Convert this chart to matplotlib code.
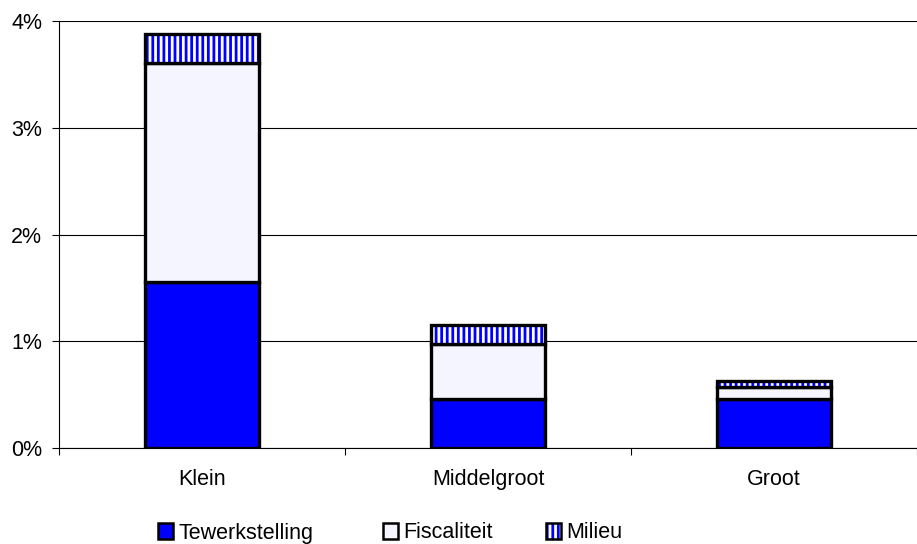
import matplotlib
matplotlib.use("Agg")
import matplotlib.pyplot as plt
from matplotlib.patches import Patch, Rectangle
from matplotlib.legend_handler import HandlerBase
import numpy as np

categories = ["Klein", "Middelgroot", "Groot"]
tewerkstelling = [1.553, 0.456, 0.462]
fiscaliteit = [2.052, 0.516, 0.107]
milieu = [0.275, 0.181, 0.059]
series_names = ["Tewerkstelling", "Fiscaliteit", "Milieu"]
yticks = [0, 1, 2, 3, 4]
ytick_labels = ["0%", "1%", "2%", "3%", "4%"]

plt.rcParams['font.family'] = ['Liberation Sans', 'DejaVu Sans']
plt.rcParams['hatch.linewidth'] = 2.0

FS = 15.5
W, H = 917, 544
fig = plt.figure(figsize=(W/100, H/100), dpi=100)
ax = fig.add_axes([59/W, 1 - 448/H, (W-59)/W, (448-21.2)/H])

x = np.arange(len(categories))
w = 0.40
blue = "#0000FF"
light = "#F5F5FF"
lw = 2.4

t = np.array(tewerkstelling)
f = np.array(fiscaliteit)
m = np.array(milieu)

ax.bar(x, t, w, color=blue, edgecolor="black", linewidth=lw, zorder=3)
ax.bar(x, f, w, bottom=t, color=light, edgecolor="black", linewidth=lw, zorder=3)
ax.bar(x, m, w, bottom=t + f, color="white", edgecolor=blue, hatch="|||", linewidth=0, zorder=3)
ax.bar(x, m, w, bottom=t + f, fill=False, edgecolor="black", linewidth=lw, zorder=4)

ax.set_xlim(-0.5, (W - 59) / 289 - 0.5)
ax.set_ylim(0, 4)
ax.set_yticks(yticks)
ax.set_yticklabels(ytick_labels, fontsize=FS)
ax.set_xticks(x)
ax.set_xticklabels(categories, fontsize=FS)
ax.tick_params(axis='x', which='major', length=0, pad=15)
ax.set_xticks([-0.5, 0.5, 1.5, 2.5], minor=True)
ax.tick_params(axis='x', which='minor', length=5, width=0.8, direction='out')
ax.tick_params(axis='y', length=5, width=0.8, direction='out', pad=7)
ax.yaxis.grid(True, color="black", linewidth=0.8, zorder=0)
ax.set_axisbelow(True)
for s in ["top", "right"]:
    ax.spines[s].set_visible(False)
ax.spines["left"].set_linewidth(0.8)
ax.spines["bottom"].set_linewidth(0.8)


class MilieuHandler(HandlerBase):
    def create_artists(self, legend, orig_handle, xdescent, ydescent, width, height, fontsize, trans):
        r1 = Rectangle((-xdescent, -ydescent), width, height, facecolor="white",
                       edgecolor=blue, hatch="|||", linewidth=0, transform=trans)
        r2 = Rectangle((-xdescent, -ydescent), width, height, fill=False,
                       edgecolor="black", linewidth=1.8, transform=trans)
        return [r1, r2]


handles = [
    Patch(facecolor=blue, edgecolor="black", linewidth=1.8),
    Patch(facecolor=light, edgecolor="black", linewidth=1.8),
    Patch(facecolor="white", edgecolor=blue, hatch="|||", linewidth=0),
]
legend_x = [158, 383, 546]
for i, (h, name) in enumerate(zip(handles, series_names)):
    kw = {}
    if i == 2:
        kw["handler_map"] = {h: MilieuHandler()}
    fig.legend([h], [name], loc="center left",
               bbox_to_anchor=(legend_x[i]/W, 1 - 533/H),
               frameon=False, fontsize=FS, handlelength=0.7, handleheight=0.7,
               handletextpad=0.25, borderpad=0, borderaxespad=0, **kw)

fig.savefig("out.png", dpi=100)
